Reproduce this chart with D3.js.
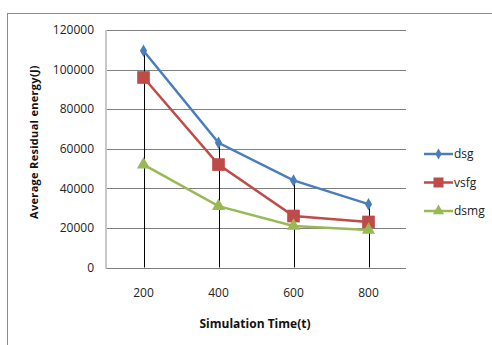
<!DOCTYPE html>
<html>
<head>
<meta charset="utf-8">
<script src="https://cdn.jsdelivr.net/npm/d3@7"></script>
<style>
  body { margin: 0; background: #fff; }
  text { font-family: "Open Sans", "DejaVu Sans", sans-serif; }
</style>
</head>
<body>
<div id="chart"></div>
<script>
var categories = [200, 400, 600, 800];
var dsg  = [109500, 63000, 44000, 32000];
var vsfg = [96000, 52000, 26000, 23000];
var dsmg = [52000, 31000, 21000, 19000];
var yTicks = [0, 20000, 40000, 60000, 80000, 100000, 120000];

var width = 492, height = 345;
var margin = {top: 30, left: 106, right: 86, bottom: 77};

var svg = d3.select("#chart").append("svg")
    .attr("width", width)
    .attr("height", height);

// outer chart border
svg.append("rect")
    .attr("x", 7.5).attr("y", 13.5)
    .attr("width", 500).attr("height", 400)
    .attr("fill", "none")
    .attr("stroke", "#8c8c8c")
    .attr("stroke-width", 1);

var x = d3.scaleBand()
    .domain(categories)
    .range([margin.left, width - margin.right]);

var y = d3.scaleLinear()
    .domain([0, 120000])
    .range([height - margin.bottom - 0.5, margin.top]);

// gridlines
svg.append("g").selectAll("line")
    .data(yTicks)
    .enter().append("line")
    .attr("x1", margin.left)
    .attr("x2", width - margin.right)
    .attr("y1", function(d){ return Math.round(y(d)) + 0.5; })
    .attr("y2", function(d){ return Math.round(y(d)) + 0.5; })
    .attr("stroke", "#808080")
    .attr("stroke-width", 1);

// left axis line
svg.append("line")
    .attr("x1", margin.left).attr("x2", margin.left)
    .attr("y1", margin.top).attr("y2", Math.round(y(0)) + 0.5)
    .attr("stroke", "#c8c8c8")
    .attr("stroke-width", 2);

// y tick labels
svg.append("g").selectAll("text")
    .data(yTicks)
    .enter().append("text")
    .attr("x", 94)
    .attr("y", function(d){ return y(d); })
    .attr("dy", "0.35em")
    .attr("text-anchor", "end")
    .attr("font-size", "12px")
    .attr("fill", "#222")
    .text(function(d){ return d; });

// x tick labels
svg.append("g").selectAll("text")
    .data(categories)
    .enter().append("text")
    .attr("x", function(d){ return x(d) + x.bandwidth() / 2; })
    .attr("y", 293)
    .attr("dy", "0.35em")
    .attr("text-anchor", "middle")
    .attr("font-size", "12px")
    .attr("fill", "#222")
    .text(function(d){ return d; });

// drop lines
var maxVals = categories.map(function(c, i){ return Math.max(dsg[i], vsfg[i], dsmg[i]); });
svg.append("g").selectAll("line")
    .data(categories)
    .enter().append("line")
    .attr("x1", function(d){ return Math.round(x(d) + x.bandwidth() / 2) + 0.5; })
    .attr("x2", function(d){ return Math.round(x(d) + x.bandwidth() / 2) + 0.5; })
    .attr("y1", function(d, i){ return y(maxVals[i]); })
    .attr("y2", y(0))
    .attr("stroke", "#000")
    .attr("stroke-width", 1);

var series = [
    {name: "dsg",  values: dsg,  color: "#4A7EBB", marker: "diamond"},
    {name: "vsfg", values: vsfg, color: "#BE4B48", marker: "square"},
    {name: "dsmg", values: dsmg, color: "#98B954", marker: "triangle"}
];

var symbolFor = {
    diamond: d3.symbol().type(d3.symbolDiamond).size(45),
    square: d3.symbol().type(d3.symbolSquare).size(160),
    triangle: d3.symbol().type(d3.symbolTriangle).size(75)
};

var line = d3.line()
    .x(function(d){ return x(d.c) + x.bandwidth() / 2; })
    .y(function(d){ return y(d.v); });

series.forEach(function(s){
    var pts = categories.map(function(c, i){ return {c: c, v: s.values[i]}; });
    svg.append("path")
        .datum(pts)
        .attr("fill", "none")
        .attr("stroke", s.color)
        .attr("stroke-width", 2.5)
        .attr("d", line);
    svg.append("g").selectAll("path")
        .data(pts)
        .enter().append("path")
        .attr("d", symbolFor[s.marker])
        .attr("transform", function(d){ return "translate(" + (x(d.c) + x.bandwidth() / 2) + "," + y(d.v) + ")"; })
        .attr("fill", s.color);
});

// legend
var legend = svg.append("g").selectAll("g")
    .data(series)
    .enter().append("g")
    .attr("transform", function(d, i){ return "translate(424," + (154 + i * 28.5) + ")"; });

legend.append("line")
    .attr("x1", 0).attr("x2", 29)
    .attr("stroke", function(d){ return d.color; })
    .attr("stroke-width", 2.5);

legend.append("path")
    .attr("d", function(d){
        return d.marker === "square" ? d3.symbol().type(d3.symbolSquare).size(100)()
             : d.marker === "triangle" ? d3.symbol().type(d3.symbolTriangle).size(55)()
             : d3.symbol().type(d3.symbolDiamond).size(35)();
    })
    .attr("transform", "translate(14.5,0)")
    .attr("fill", function(d){ return d.color; });

legend.append("text")
    .attr("x", 30)
    .attr("dy", "0.35em")
    .attr("font-size", "12px")
    .attr("fill", "#222")
    .text(function(d){ return d.name; });

// axis titles
svg.append("text")
    .attr("x", 255)
    .attr("y", 324)
    .attr("dy", "0.35em")
    .attr("text-anchor", "middle")
    .attr("font-size", "12px")
    .attr("font-weight", "bold")
    .attr("fill", "#111")
    .text("Simulation Time(t)");

svg.append("text")
    .attr("transform", "translate(34,142) rotate(-90)")
    .attr("dy", "0.35em")
    .attr("text-anchor", "middle")
    .attr("font-size", "11px")
    .attr("font-weight", "bold")
    .attr("letter-spacing", "0.3px")
    .attr("fill", "#111")
    .text("Average Residual energy(J)");
</script>
</body>
</html>
